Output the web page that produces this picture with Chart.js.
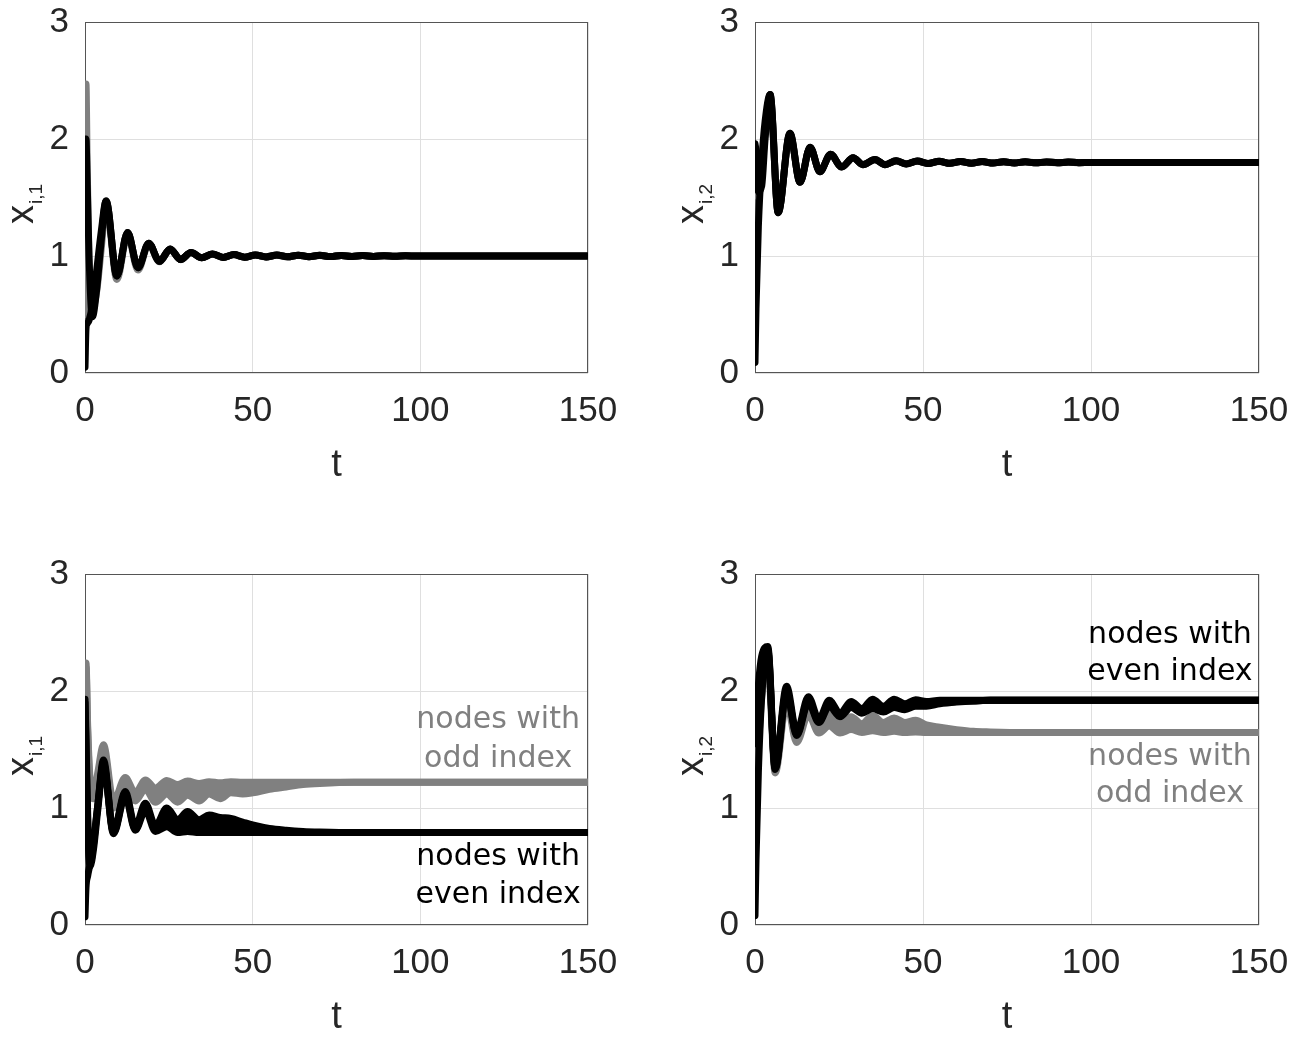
<!DOCTYPE html>
<html lang="en">
<head>
  <meta charset="UTF-8">
  <title>Node states over time</title>
  <script src="https://cdn.jsdelivr.net/npm/chart.js"></script>
  <style>
    body {
      margin: 0;
      background: #ffffff;
      width: 1309px;
      height: 1037px;
      position: relative;
      overflow: hidden;
    }
    canvas { position: absolute; }
    #tl { left: 0; top: 0; }
    #tr { left: 670px; top: 0; }
    #bl { left: 0; top: 552px; }
    #br { left: 670px; top: 552px; }
  </style>
</head>
<body>
  <canvas id="tl" width="640" height="485"></canvas>
  <canvas id="tr" width="639" height="485"></canvas>
  <canvas id="bl" width="640" height="485"></canvas>
  <canvas id="br" width="639" height="485"></canvas>

  <script>
    // ---- data ----
    // top left: x_{i,1}, all nodes agree
    const tTL = [0, 0.3, 0.6, 1.2, 2.2, 3.5, 4.8, 6.3, 9.5, 12.7, 15.8, 19, 22.2, 25.4, 28.5, 31.6, 34.8, 38, 41.2, 44.4, 47.6, 50.8, 54, 57.2, 60.4, 63.6, 66.8, 70, 73.2, 76.4, 79.6, 82.8, 86, 89.2, 92.4, 95.6, 99, 150];
    const evenA_TL = [1.95, 2.0, 1.7, 1.0, 0.48, 0.72, 1.12, 1.47, 0.83, 1.2, 0.9, 1.11, 0.955, 1.06, 0.97, 1.03, 0.985, 1.017, 0.988, 1.012, 0.99, 1.009, 0.992, 1.008, 0.993, 1.007, 0.994, 1.006, 0.995, 1.005, 0.996, 1.004, 0.996, 1.003, 0.997, 1.002, 1.0, 1.0];
    const evenB_TL = [0.05, 0.38, 0.42, 0.45, 0.58, 0.88, 1.2, 1.47, 0.83, 1.2, 0.9, 1.11, 0.955, 1.06, 0.97, 1.03, 0.985, 1.017, 0.988, 1.012, 0.99, 1.009, 0.992, 1.008, 0.993, 1.007, 0.994, 1.006, 0.995, 1.005, 0.996, 1.004, 0.996, 1.003, 0.997, 1.002, 1.0, 1.0];
    const odd_TL = [0.5, 2.47, 1.9, 0.9, 0.55, 0.7, 1.05, 1.44, 0.8, 1.18, 0.88, 1.1, 0.95, 1.055, 0.968, 1.028, 0.985, 1.015, 0.988, 1.011, 0.99, 1.008, 0.992, 1.007, 0.993, 1.006, 0.994, 1.005, 0.995, 1.005, 0.996, 1.004, 0.996, 1.003, 0.997, 1.002, 1.0, 1.0];

    // top right: x_{i,2}, all nodes agree
    const tTR = [0, 0.3, 1, 2, 3, 4.5, 6.9, 10.4, 13.4, 16.4, 19.3, 22.5, 25.8, 29.2, 32.1, 35.7, 38.7, 42, 45, 48.3, 51.5, 54.8, 58, 61.2, 64.4, 67.6, 70.8, 74, 77.2, 80.4, 83.6, 86.8, 90, 93.2, 96.4, 100, 150];
    const evenA_TR = [0.09, 0.55, 1.25, 1.8, 2.15, 2.38, 1.37, 2.05, 1.63, 1.93, 1.72, 1.87, 1.76, 1.84, 1.78, 1.825, 1.78, 1.815, 1.787, 1.812, 1.79, 1.81, 1.792, 1.808, 1.793, 1.807, 1.794, 1.806, 1.795, 1.805, 1.796, 1.804, 1.797, 1.803, 1.798, 1.8, 1.8];
    const evenB_TR = [1.96, 1.9, 1.55, 1.6, 2.0, 2.38, 1.37, 2.05, 1.63, 1.93, 1.72, 1.87, 1.76, 1.84, 1.78, 1.825, 1.78, 1.815, 1.787, 1.812, 1.79, 1.81, 1.792, 1.808, 1.793, 1.807, 1.794, 1.806, 1.795, 1.805, 1.796, 1.804, 1.797, 1.803, 1.798, 1.8, 1.8];
    const odd_TR = [1.9, 1.8, 1.5, 1.7, 2.05, 2.35, 1.38, 2.03, 1.64, 1.92, 1.73, 1.86, 1.765, 1.835, 1.785, 1.82, 1.783, 1.813, 1.789, 1.81, 1.791, 1.808, 1.793, 1.807, 1.794, 1.806, 1.795, 1.805, 1.796, 1.804, 1.797, 1.803, 1.797, 1.802, 1.798, 1.8, 1.8];

    // bottom left: x_{i,1}, odd / even nodes split (band = upper and lower edge)
    const tBL = [0, 0.3, 0.8, 1.5, 2.5, 3.8, 5.5, 8.5, 12, 15, 18, 21, 24.4, 27.6, 30.6, 34, 37, 40.3, 43.5, 47, 50, 55, 60, 65, 70, 80, 150];
    const evenHi_BL = [1.93, 1.6, 0.95, 0.52, 0.68, 1.02, 1.41, 0.8, 1.14, 0.84, 1.04, 0.85, 1.0, 0.9, 0.97, 0.9, 0.94, 0.92, 0.91, 0.88, 0.855, 0.825, 0.81, 0.8, 0.795, 0.79, 0.79];
    const evenLo_BL = [1.9, 1.5, 0.85, 0.5, 0.64, 0.98, 1.37, 0.78, 1.1, 0.81, 0.98, 0.8, 0.84, 0.79, 0.8, 0.79, 0.79, 0.79, 0.79, 0.79, 0.79, 0.79, 0.79, 0.79, 0.79, 0.79, 0.79];
    const evenNode_BL = [0.07, 0.32, 0.42, 0.52, 0.7, 1.02, 1.38, 0.79, 1.12, 0.82, 1.0, 0.82, 0.9, 0.8, 0.85, 0.8, 0.83, 0.8, 0.81, 0.8, 0.8, 0.79, 0.79, 0.79, 0.79, 0.79, 0.79];
    const oddHi_BL = [1.85, 2.24, 1.7, 1.25, 1.12, 1.3, 1.54, 1.06, 1.26, 1.13, 1.24, 1.17, 1.235, 1.2, 1.23, 1.21, 1.225, 1.215, 1.225, 1.22, 1.22, 1.22, 1.22, 1.22, 1.22, 1.22, 1.22];
    const oddLo_BL = [1.8, 2.2, 1.65, 1.2, 1.08, 1.25, 1.5, 1.0, 1.2, 1.06, 1.16, 1.05, 1.12, 1.05, 1.11, 1.06, 1.12, 1.08, 1.13, 1.12, 1.13, 1.16, 1.18, 1.2, 1.21, 1.22, 1.22];

    // bottom right: x_{i,2}, odd / even nodes split
    const tBR = [0, 0.3, 1, 2, 3.8, 6, 9.4, 12.4, 15.9, 19, 22.1, 25.3, 28.6, 31.8, 35, 38.2, 41.4, 44.6, 47.8, 51, 55, 60, 65, 70, 80, 150];
    const evenHi_BR = [1.6, 1.75, 2.05, 2.3, 2.38, 1.36, 2.04, 1.65, 1.95, 1.76, 1.92, 1.81, 1.91, 1.85, 1.93, 1.87, 1.93, 1.89, 1.925, 1.91, 1.92, 1.92, 1.92, 1.92, 1.92, 1.92];
    const evenLo_BR = [1.55, 1.6, 1.9, 2.2, 2.34, 1.33, 1.99, 1.62, 1.9, 1.73, 1.87, 1.78, 1.86, 1.81, 1.85, 1.82, 1.86, 1.84, 1.87, 1.87, 1.89, 1.905, 1.915, 1.92, 1.92, 1.92];
    const evenNode_BR = [0.08, 0.55, 1.3, 1.95, 2.36, 1.34, 2.0, 1.63, 1.92, 1.74, 1.9, 1.8, 1.88, 1.83, 1.88, 1.84, 1.88, 1.86, 1.89, 1.88, 1.9, 1.91, 1.915, 1.92, 1.92, 1.92];
    const oddHi_BR = [1.91, 1.85, 1.7, 2.0, 2.28, 1.34, 1.95, 1.6, 1.86, 1.7, 1.8, 1.72, 1.78, 1.72, 1.79, 1.73, 1.77, 1.73, 1.75, 1.71, 1.69, 1.67, 1.655, 1.65, 1.645, 1.645];
    const oddLo_BR = [1.88, 1.75, 1.6, 1.95, 2.24, 1.3, 1.9, 1.56, 1.8, 1.64, 1.7, 1.64, 1.67, 1.645, 1.66, 1.645, 1.655, 1.645, 1.65, 1.645, 1.645, 1.645, 1.645, 1.645, 1.645, 1.645];

    const xTicks = [0, 50, 100, 150];
    const yTicks = [0, 1, 2, 3];

    // ---- styling ----
    const INK = '#262626';
    const GRID = '#dfdfdf';
    const BLACK = '#000000';
    const GRAY = '#808080';
    const FONT = '"Liberation Sans", Arial, sans-serif';

    function pts(t, v) {
      return t.map((x, i) => ({ x: x, y: v[i] }));
    }

    function trace(t, v, color, fill) {
      return {
        data: pts(t, v),
        borderColor: color,
        backgroundColor: color,
        borderWidth: 7,
        pointRadius: 0,
        cubicInterpolationMode: 'monotone',
        borderJoinStyle: 'round',
        borderCapStyle: 'round',
        fill: fill || false
      };
    }

    // axes box, drawn under the curves
    const framePlugin = {
      id: 'frame',
      beforeDatasetsDraw(chart) {
        const { ctx, chartArea: a } = chart;
        ctx.save();
        ctx.strokeStyle = '#555555';
        ctx.lineWidth = 1;
        ctx.strokeRect(Math.round(a.left) + 0.5, Math.round(a.top) + 0.5,
          Math.round(a.right - a.left) - 1, Math.round(a.bottom - a.top) - 1);
        ctx.restore();
      }
    };

    // rotated y label with a subscript
    const ylabPlugin = {
      id: 'ylab',
      afterDraw(chart, args, opts) {
        if (!opts.main) return;
        const { ctx, chartArea: a } = chart;
        ctx.save();
        ctx.font = '38px ' + FONT;
        const wMain = ctx.measureText(opts.main).width;
        ctx.font = '19px ' + FONT;
        const wSub = ctx.measureText(opts.sub).width;
        const cy = (a.top + a.bottom) / 2 + 7;
        ctx.translate(a.left - 52, cy + (wMain + wSub) / 2);
        ctx.rotate(-Math.PI / 2);
        ctx.fillStyle = INK;
        ctx.textBaseline = 'alphabetic';
        ctx.textAlign = 'left';
        ctx.font = '38px ' + FONT;
        ctx.fillText(opts.main, 0, 0);
        ctx.font = '19px ' + FONT;
        ctx.fillText(opts.sub, wMain + 1, 9);
        ctx.restore();
      }
    };

    // text notes placed in data coordinates
    const notesPlugin = {
      id: 'notes',
      afterDatasetsDraw(chart, args, opts) {
        if (!opts.items || !opts.items.length) return;
        const { ctx, scales } = chart;
        ctx.save();
        ctx.font = '30px "DejaVu Sans", sans-serif';
        ctx.textAlign = 'center';
        ctx.textBaseline = 'alphabetic';
        opts.items.forEach(n => {
          ctx.fillStyle = n.color;
          ctx.fillText(n.text, scales.x.getPixelForValue(n.x), scales.y.getPixelForValue(n.y));
        });
        ctx.restore();
      }
    };

    Chart.register(framePlugin, ylabPlugin, notesPlugin);

    function panel(id, datasets, sub, notes, padRight) {
      return new Chart(document.getElementById(id), {
        type: 'line',
        data: { datasets: datasets },
        options: {
          responsive: false,
          animation: false,
          events: [],
          layout: { padding: { top: 22, right: padRight, bottom: 0, left: 0 } },
          plugins: {
            legend: { display: false },
            tooltip: { enabled: false },
            ylab: { main: 'x', sub: sub },
            notes: { items: notes }
          },
          scales: {
            x: {
              type: 'linear',
              min: 0,
              max: 150,
              afterBuildTicks(s) { s.ticks = xTicks.map(v => ({ value: v })); },
              ticks: { autoSkip: false, maxRotation: 0, padding: 17, color: INK, font: { family: FONT, size: 35 } },
              grid: { color: GRID, drawTicks: false },
              border: { display: false },
              title: {
                display: true, text: 't', color: INK,
                font: { family: FONT, size: 38, lineHeight: 1 },
                padding: { top: 0, bottom: 0 }
              },
              afterFit(s) { s.height = 112; }
            },
            y: {
              type: 'linear',
              min: 0,
              max: 3,
              afterBuildTicks(s) { s.ticks = yTicks.map(v => ({ value: v })); },
              // small lineHeight keeps the label half-height from pushing the plot area down
              ticks: { padding: 16, color: INK, font: { family: FONT, size: 35, lineHeight: 0.2 } },
              grid: { color: GRID, drawTicks: false },
              border: { display: false },
              afterFit(s) { s.width = 85; }
            }
          }
        }
      });
    }

    // black (even) first so it lies on top of gray (odd)
    panel('tl', [
      trace(tTL, evenA_TL, BLACK),
      trace(tTL, evenB_TL, BLACK),
      trace(tTL, odd_TL, GRAY)
    ], 'i,1', [], 52);

    panel('tr', [
      trace(tTR, evenA_TR, BLACK),
      trace(tTR, evenB_TR, BLACK),
      trace(tTR, odd_TR, GRAY)
    ], 'i,2', [], 50);

    panel('bl', [
      trace(tBL, evenHi_BL, BLACK),
      trace(tBL, evenLo_BL, BLACK, '-1'),
      trace(tBL, evenNode_BL, BLACK),
      trace(tBL, oddHi_BL, GRAY),
      trace(tBL, oddLo_BL, GRAY, '-1')
    ], 'i,1', [
      { text: 'nodes with', x: 123.2, y: 1.681, color: GRAY },
      { text: 'odd index', x: 123.2, y: 1.348, color: GRAY },
      { text: 'nodes with', x: 123.2, y: 0.513, color: BLACK },
      { text: 'even index', x: 123.2, y: 0.185, color: BLACK }
    ], 52);

    panel('br', [
      trace(tBR, evenHi_BR, BLACK),
      trace(tBR, evenLo_BR, BLACK, '-1'),
      trace(tBR, evenNode_BR, BLACK),
      trace(tBR, oddHi_BR, GRAY),
      trace(tBR, oddLo_BR, GRAY, '-1')
    ], 'i,2', [
      { text: 'nodes with', x: 123.5, y: 2.41, color: BLACK },
      { text: 'even index', x: 123.5, y: 2.094, color: BLACK },
      { text: 'nodes with', x: 123.5, y: 1.368, color: GRAY },
      { text: 'odd index', x: 123.5, y: 1.051, color: GRAY }
    ], 50);
  </script>
</body>
</html>
